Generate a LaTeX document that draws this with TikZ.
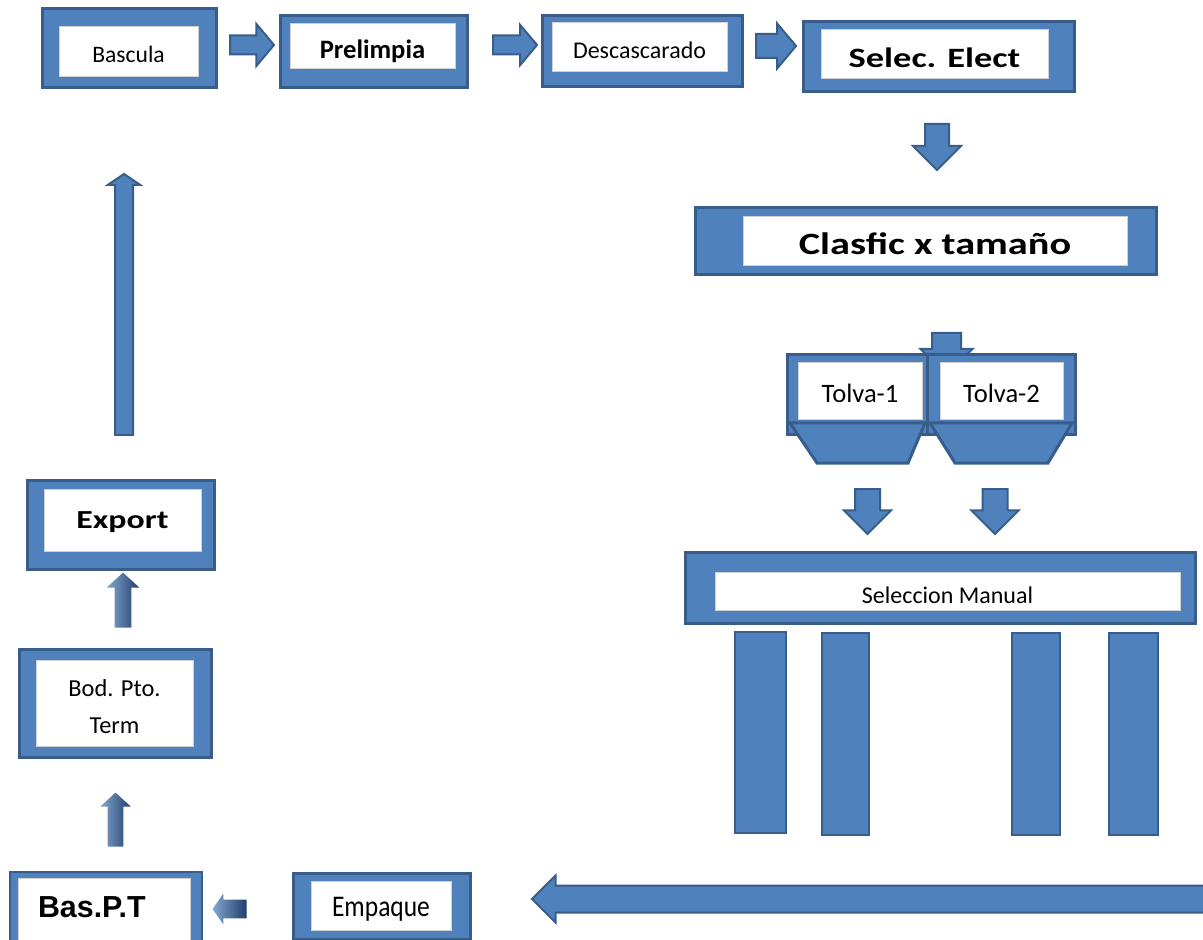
\documentclass[tikz,border=0pt]{standalone}
\usepackage{fontspec}
\setmainfont{Carlito}
\newfontfamily\ancha[FakeStretch=1.3]{Carlito}
\newfontfamily\estrecha[FakeStretch=0.85]{Carlito}
\newfontfamily\arial{Liberation Sans}
\usetikzlibrary{shapes.arrows}

\definecolor{azul}{HTML}{4F81BD}
\definecolor{borde}{HTML}{385D8A}
\definecolor{gris}{HTML}{D0D0D0}
\definecolor{oscuro}{HTML}{1F3F6A}

% baja el texto sin cambiar su caja
\newcommand{\bajar}[2]{\raisebox{-#1}[\height][\depth]{#2}}

\tikzset{
  caja/.style={draw=borde, fill=azul, line width=1.5pt, inner sep=0pt},
  blanco/.style={draw=gris, fill=white, line width=0.5pt, inner sep=0pt, align=center, text depth=0pt},
  flecha/.style={single arrow, draw=borde, fill=azul, line width=1pt, inner sep=0pt,
    anchor=tail, single arrow tip angle=90},
  sombra/.style={single arrow, draw=none, inner sep=0pt, anchor=tail,
    left color=azul!70!white, right color=oscuro, single arrow tip angle=95}
}

\begin{document}
\begin{tikzpicture}[x=0.5pt, y=-0.5pt]
    \useasboundingbox (0,0) rectangle (1203,940);

    % Fila de arriba
    \node[caja, minimum width=87pt, minimum height=39.5pt] (bascula) at (129,48.5) {};
    \node[blanco, minimum width=69.5pt, minimum height=25pt, text height=10.1pt,
        font=\fontsize{11.8}{14}\selectfont] (bascula-t) at (128.5,52) {Bascula};
    \node[caja, minimum width=93.5pt, minimum height=36pt] (prelimpia) at (373.5,52) {};
    \node[blanco, minimum width=82.5pt, minimum height=22.5pt, text height=12.1pt,
        font=\fontsize{13.3}{15}\selectfont\bfseries] (prelimpia-t) at (372.5,46.5) {Prelimpia};
    \node[caja, minimum width=100pt, minimum height=35.5pt] (descasc) at (642,51.5) {};
    \node[blanco, minimum width=87.5pt, minimum height=24.5pt, text height=11.2pt,
        font=\fontsize{12}{14}\selectfont] (descasc-t) at (639.5,47.5) {Descascarado};
    \node[caja, minimum width=135.5pt, minimum height=35pt] (selec) at (938.5,57) {};
    \node[blanco, minimum width=113.5pt, minimum height=24.5pt, text height=13.5pt,
        font=\ancha\fontsize{14}{16}\selectfont\bfseries] (selec-t) at (934.5,54.5) {Selec. Elect};

    % Flechas de arriba
    \node[flecha, minimum height=22pt, inner ysep=4.25pt, single arrow head extend=5.75pt,
        single arrow tip angle=100] (f1) at (229,45) {};
    \node[flecha, minimum height=22pt, inner ysep=4.25pt, single arrow head extend=5.25pt,
        single arrow tip angle=100] (f2) at (492,45) {};
    \node[flecha, minimum height=20pt, inner ysep=5.5pt, single arrow head extend=5.25pt,
        single arrow tip angle=100] (f3) at (755,46) {};
    \node[flecha, rotate=270, minimum height=23pt, inner ysep=5.5pt, single arrow head extend=6pt]
        (f4) at (937,123) {};

    % Clasificacion
    \node[caja, minimum width=230.5pt, minimum height=33.5pt] (clasfic) at (925.5,241.5) {};
    \node[blanco, minimum width=192pt, minimum height=24.5pt, text height=13.5pt,
        font=\ancha\fontsize{15.5}{18}\selectfont\bfseries] (clasfic-t) at (935,241.5) {Clasfic x tamaño};

    % Tolvas
    \node[flecha, rotate=270, minimum height=21pt, inner ysep=6.75pt, single arrow head extend=5.75pt]
        (f5) at (946.5,332) {};
    \node[caja, minimum width=70pt, minimum height=40pt] (tolva1) at (857,395) {};
    \node[caja, minimum width=74pt, minimum height=40pt] (tolva2) at (1001,395) {};
    \draw[caja] (790,423) -- (925,423) -- (908,463) -- (817,463) -- cycle;
    \draw[caja] (930,423) -- (1072,423) -- (1048,463) -- (955,463) -- cycle;
    \node[blanco, minimum width=62pt, minimum height=28.5pt, text height=10.6pt,
        font=\fontsize{13.3}{15}\selectfont] (tolva1-t) at (860,391.5) {Tolva-1};
    \node[blanco, minimum width=61.5pt, minimum height=28.5pt, text height=10.6pt,
        font=\fontsize{13.3}{15}\selectfont] (tolva2-t) at (1001.5,391.5) {Tolva-2};
    \node[flecha, rotate=270, minimum height=22.5pt, inner ysep=5.75pt, single arrow head extend=5.5pt]
        (f6) at (867.5,488) {};
    \node[flecha, rotate=270, minimum height=22.5pt, inner ysep=5.75pt, single arrow head extend=5.5pt]
        (f7) at (995,488) {};

    % Seleccion manual y mesas
    \node[caja, minimum width=255pt, minimum height=35.5pt] (selman) at (940,587.5) {};
    \node[blanco, minimum width=232.5pt, minimum height=19pt, text height=12.2pt,
        font=\fontsize{12}{14}\selectfont] (selman-t) at (947.5,591) {Seleccion Manual};
    \draw[caja, line width=1pt] (735,632) rectangle (786,833);
    \draw[caja, line width=1pt] (822,633) rectangle (869,835);
    \draw[caja, line width=1pt] (1012,633) rectangle (1060,835);
    \draw[caja, line width=1pt] (1109,633) rectangle (1158,835);

    % Fila de abajo
    \node[flecha, rotate=180, minimum height=336pt, inner ysep=6.25pt, single arrow head extend=5pt]
        (f8) at (1205,899) {};
    \node[caja, minimum width=88.5pt, minimum height=33pt] (empaque) at (381.5,906) {};
    \node[blanco, minimum width=70pt, minimum height=24.5pt, text height=11.2pt,
        font=\estrecha\fontsize{15}{17}\selectfont] (empaque-t) at (381,905.5) {Empaque};
    \node[sombra, rotate=180, minimum height=17pt, inner ysep=4.5pt, single arrow head extend=3pt,
        single arrow tip angle=110] (f9) at (247,909) {};
    \node[caja, line width=1pt, minimum width=96pt, minimum height=37pt] (baspt) at (106,909) {};
    \node[blanco, minimum width=86pt, minimum height=31.5pt, text width=66pt, inner xsep=10pt,
        text height=8.4pt, align=left, font=\arial\fontsize{15.2}{17}\selectfont\bfseries]
        (baspt-t) at (104,909.5) {Bas.P.T};

    % Columna izquierda
    \node[sombra, rotate=90, minimum height=27pt, inner ysep=3.75pt, single arrow head extend=3.75pt]
        (f10) at (115.5,847) {};
    \node[caja, minimum width=96pt, minimum height=54pt] (bod) at (115,703) {};
    \node[draw=gris, fill=white, line width=0.5pt, inner sep=0pt, align=center,
        minimum width=78.5pt, minimum height=43pt, font=\fontsize{12.2}{18.5}\selectfont]
        (bod-t) at (114.5,703) {\bajar{2pt}{Bod. Pto.}\\\bajar{2pt}{Term}};
    \node[sombra, rotate=90, minimum height=27.5pt, inner ysep=4pt, single arrow head extend=4pt]
        (f11) at (123,628) {};
    \node[caja, minimum width=93.5pt, minimum height=44.5pt] (export) at (120.5,524.5) {};
    \node[blanco, minimum width=78.5pt, minimum height=31pt, text height=8.4pt,
        font=\ancha\fontsize{13}{15}\selectfont\bfseries] (export-t) at (122.5,520) {Export};
    \node[flecha, rotate=90, minimum height=130.5pt, inner ysep=4pt,
        single arrow head extend=3.5pt, single arrow tip angle=112] (f12) at (124,436) {};
\end{tikzpicture}
\end{document}
